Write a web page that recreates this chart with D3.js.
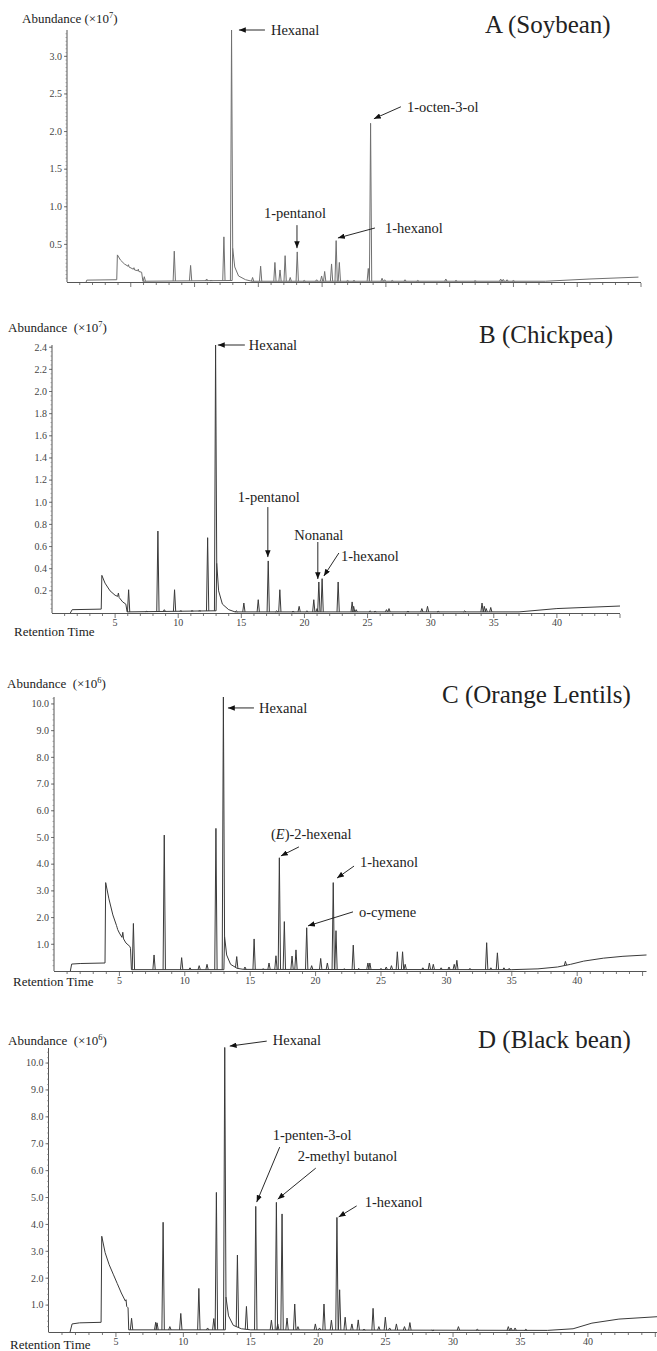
<!DOCTYPE html>
<html>
<head>
<meta charset="utf-8">
<script src="https://cdn.jsdelivr.net/npm/d3@7"></script>
<style>
  body { margin: 0; background: #fff; }
  svg { display: block; }
</style>
</head>
<body>
<div class="canvas"></div>
<script>
'use strict';

// ---- Data (retention time in min, abundance in axis units) ----

// A (Soybean), x10^7
var baseA = [[1.5, 0], [1.55, 0.025], [3.9, 0.03], [3.95, 0.36], [4.2, 0.29], [4.5, 0.24], [4.78, 0.21], [4.82, 0.23],
  [4.86, 0.2], [5.2, 0.17], [5.25, 0.19], [5.3, 0.16], [5.55, 0.15], [5.59, 0.17], [5.63, 0.14], [5.85, 0.13], [5.95, 0.01],
  [12.95, 0.02], [12.99, 0.45], [13.15, 0.2], [13.45, 0.08], [14.0, 0.03], [14.5, 0.01], [37.5, 0.01], [41, 0.04], [44.8, 0.065]];
var peaksA = [[6.06, 0.07], [8.41, 0.41], [9.69, 0.22], [10.95, 0.04], [11.3, 0.02], [12.3, 0.60], [12.9, 3.35],
  [14.55, 0.06], [15.18, 0.21], [16.3, 0.26], [16.7, 0.16], [17.1, 0.35], [17.5, 0.06], [18.05, 0.40], [18.6, 0.02],
  [19.57, 0.03], [19.96, 0.08], [20.2, 0.14], [20.74, 0.24], [21.1, 0.55], [21.35, 0.26], [22.0, 0.02], [22.5, 0.02],
  [23.62, 0.18], [23.8, 2.11], [24.7, 0.05], [24.9, 0.03], [25.5, 0.02], [26.5, 0.03], [27.5, 0.02], [29.7, 0.04],
  [30.5, 0.02], [32.0, 0.015], [34.0, 0.04], [34.2, 0.035], [34.5, 0.03], [35.0, 0.02]];
var yTicksA = [0.5, 1.0, 1.5, 2.0, 2.5, 3.0];
var labelsA = [['Hexanal', 13.48, 3.35], ['1-pentanol', 18.03, 0.45], ['1-hexanol', 21.24, 0.585], ['1-octen-3-ol', 24.06, 2.17]];

// B (Chickpea), x10^7
var baseB = [[1.45, 0], [1.6, 0.03], [3.9, 0.035], [3.95, 0.34], [4.2, 0.27], [4.6, 0.2], [5.0, 0.16], [5.2, 0.15],
  [5.26, 0.18], [5.32, 0.14], [5.6, 0.1], [5.85, 0.08], [5.95, 0.01], [13.0, 0.02], [13.05, 0.45], [13.2, 0.2],
  [13.5, 0.08], [14.0, 0.03], [14.5, 0.01], [37, 0.01], [40, 0.04], [45, 0.063]];
var peaksB = [[6.07, 0.21], [7.5, 0.015], [8.39, 0.74], [8.9, 0.03], [9.71, 0.21], [10.2, 0.02], [11.1, 0.02],
  [11.7, 0.02], [12.33, 0.68], [12.96, 2.42], [14.6, 0.02], [15.2, 0.09], [16.34, 0.12], [17.13, 0.47], [17.8, 0.02],
  [18.05, 0.21], [19.1, 0.015], [19.58, 0.06], [20.2, 0.02], [20.74, 0.12], [21.0, 0.04], [21.14, 0.28], [21.4, 0.31],
  [22.67, 0.28], [23.78, 0.10], [23.9, 0.06], [24.1, 0.03], [25.2, 0.02], [25.6, 0.015], [26.5, 0.03], [26.7, 0.04],
  [28.2, 0.015], [29.3, 0.04], [29.75, 0.06], [30.6, 0.015], [32.7, 0.02], [34.07, 0.09], [34.25, 0.06], [34.4, 0.04],
  [34.76, 0.05]];
var yTicksB = [0.2, 0.4, 0.6, 0.8, 1.0, 1.2, 1.4, 1.6, 1.8, 2.0, 2.2, 2.4];
var labelsB = [['Hexanal', 13.14, 2.42], ['1-pentanol', 17.1, 0.505], ['Nonanal', 21.06, 0.307], ['1-hexanol', 21.54, 0.334]];

// C (Orange Lentils), x10^6
var baseC = [[1.25, 0], [1.35, 0.26], [2.0, 0.28], [3.9, 0.3], [3.95, 3.31], [4.2, 2.7], [4.5, 2.1], [4.78, 1.7],
  [4.83, 1.62], [4.87, 1.55], [5.0, 1.42], [5.2, 1.26], [5.26, 1.45], [5.32, 1.2], [5.5, 1.05], [5.8, 0.92], [5.85, 0.85],
  [5.92, 0.05], [12.99, 0.05], [13.04, 1.3], [13.2, 0.6], [13.5, 0.25], [14.0, 0.1], [14.5, 0.06], [35, 0.05],
  [37, 0.08], [38.5, 0.15], [39.5, 0.25], [40.5, 0.37], [42, 0.48], [43.5, 0.55], [45.3, 0.6]];
var peaksC = [[6.07, 1.78], [7.65, 0.6], [8.43, 5.09], [9.76, 0.5], [10.4, 0.12], [11.1, 0.2], [11.7, 0.25],
  [12.38, 5.34], [12.95, 10.26], [13.97, 0.54], [14.6, 0.15], [15.3, 1.2], [16.0, 0.08], [16.44, 0.3], [16.97, 0.57],
  [17.23, 4.24], [17.61, 1.85], [18.2, 0.56], [18.5, 0.79], [19.32, 1.62], [19.7, 0.2], [20.39, 0.47], [20.9, 0.3],
  [21.35, 3.31], [21.56, 1.51], [22.2, 0.08], [22.88, 0.97], [23.3, 0.1], [24.0, 0.3], [24.15, 0.3], [25.0, 0.1],
  [25.4, 0.15], [25.8, 0.2], [26.25, 0.72], [26.65, 0.72], [26.85, 0.25], [28.2, 0.12], [28.7, 0.3], [29.0, 0.25],
  [29.6, 0.12], [30.2, 0.15], [30.6, 0.25], [30.8, 0.4], [31.8, 0.1], [33.08, 1.06], [33.4, 0.12], [33.9, 0.68],
  [34.4, 0.12], [34.8, 0.1], [39.1, 0.36]];
var yTicksC = [1.0, 2.0, 3.0, 4.0, 5.0, 6.0, 7.0, 8.0, 9.0, 10.0];
var labelsC = [['Hexanal', 13.3, 9.85], ['(E)-2-hexenal', 17.35, 4.31], ['1-hexanol', 21.64, 3.48], ['o-cymene', 19.42, 1.69]];

// D (Black bean), x10^6
var baseD = [[1.6, 0], [1.75, 0.3], [2.3, 0.34], [3.9, 0.36], [3.95, 3.56], [4.2, 2.95], [4.5, 2.5], [4.8, 2.15],
  [5.1, 1.8], [5.4, 1.45], [5.7, 1.15], [5.75, 1.2], [5.8, 0.95], [5.9, 0.9], [5.95, 0.08], [13.11, 0.08], [13.16, 1.3],
  [13.35, 0.6], [13.7, 0.25], [14.3, 0.12], [15, 0.08], [37, 0.06], [38.9, 0.12], [40.3, 0.33], [42.3, 0.48], [45.2, 0.57]];
var peaksD = [[6.16, 0.51], [7.95, 0.36], [8.05, 0.34], [8.5, 4.08], [9.0, 0.2], [9.81, 0.69], [11.15, 1.62],
  [11.8, 0.15], [12.26, 0.5], [12.45, 5.19], [13.07, 10.58], [14.01, 2.86], [14.68, 0.95], [15.37, 4.67], [16.53, 0.44],
  [16.9, 4.82], [17.0, 0.3], [17.32, 4.39], [17.69, 0.52], [18.26, 1.04], [18.5, 0.2], [19.79, 0.3], [20.1, 0.15],
  [20.43, 1.04], [20.98, 0.44], [21.39, 4.26], [21.59, 1.57], [22.0, 0.55], [22.5, 0.3], [22.97, 0.45], [23.4, 0.1],
  [24.07, 0.88], [24.5, 0.2], [24.98, 0.55], [25.3, 0.15], [25.8, 0.3], [26.4, 0.2], [26.8, 0.35], [28.5, 0.05],
  [30.4, 0.2], [31.8, 0.1], [34.1, 0.2], [34.3, 0.15], [34.6, 0.15], [35.4, 0.1]];
var yTicksD = [1.0, 2.0, 3.0, 4.0, 5.0, 6.0, 7.0, 8.0, 9.0, 10.0];
var labelsD = [['Hexanal', 13.44, 10.63], ['1-penten-3-ol', 15.44, 4.83], ['2-methyl butanol', 17.0, 4.94], ['1-hexanol', 21.52, 4.28]];

var xTickLabels = [5, 10, 15, 20, 25, 30, 35, 40];

// ---- Layout (pixels) ----
var FONT = '"Liberation Serif", "Tinos", "Times New Roman", "DejaVu Serif", serif';
var PEAK_HALF_WIDTH = 0.09;

var panels = [
  { title: 'A (Soybean)', exp: '7', base: baseA, peaks: peaksA, yTicks: yTicksA, labels: labelsA,
    left: 67, right: 641, xMax: 45, bottom: 282, top: 30, yMax: 3.35, yMinor: 0.05, xLabels: false,
    color: '#707070', titleX: 485, titleY: 33, absX: 22, absY: 23, absGap: ' ',
    arrows: [[26, 0, 32, 5, 'start'], [0, -23, -2, -30, 'middle'], [37, -10, 47, -5, 'start'], [27, -12, 33, -7, 'start']] },
  { title: 'B (Chickpea)', exp: '7', base: baseB, peaks: peaksB, yTicks: yTicksB, labels: labelsB,
    left: 52, right: 620, xMax: 45, bottom: 613, top: 345, yMax: 2.42, yMinor: 0.04, xLabels: true,
    color: '#3a3a3a', titleX: 479, titleY: 343, absX: 8, absY: 332, absGap: '\u2002', timeX: 14, timeY: 636,
    arrows: [[27, 0, 31, 5, 'start'], [0, -50, 1, -55, 'middle'], [0, -37, 1, -39, 'middle'], [15, -23, 17, -15, 'start']] },
  { title: 'C (Orange Lentils)', exp: '6', base: baseC, peaks: peaksC, yTicks: yTicksC, labels: labelsC,
    left: 54, right: 646.5, xMax: 45.3, bottom: 971, top: 697, yMax: 10.26, yMinor: 0.2, xLabels: true,
    color: '#3a3a3a', titleX: 442, titleY: 703, absX: 7, absY: 688, absGap: '\u2002', timeX: 13, timeY: 986,
    arrows: [[26, 0, 31, 5, 'start'], [18, -9, -10, -17, 'start'], [17, -12, 23, -11, 'start'], [45, -14, 51, -9, 'start']] },
  { title: 'D (Black bean)', exp: '6', base: baseD, peaks: peaksD, yTicks: yTicksD, labels: labelsD,
    left: 48.5, right: 658, xMax: 45.2, bottom: 1332, top: 1048, yMax: 10.56, yMinor: 0.2, xLabels: true,
    color: '#3a3a3a', titleX: 478, titleY: 1048, absX: 8, absY: 1045, absGap: '\u2002', timeX: 10, timeY: 1349,
    arrows: [[37, -5, 43, -1, 'start'], [23, -55, 16, -62, 'start'], [38, -31, 20, -38, 'start'], [18, -11, 26, -10, 'start']] }
];

var svg = d3.select('.canvas').append('svg')
  .attr('width', 657)
  .attr('height', 1351)
  .attr('font-family', FONT)
  .style('font-family', FONT);

svg.append('defs').append('marker')
  .attr('id', 'arrowHead')
  .attr('markerUnits', 'userSpaceOnUse')
  .attr('viewBox', '0 0 10 8')
  .attr('refX', 10)
  .attr('refY', 4)
  .attr('markerWidth', 7)
  .attr('markerHeight', 5.5)
  .attr('orient', 'auto')
  .append('path')
  .attr('d', 'M0,0 L10,4 L0,8 Z')
  .attr('fill', '#111');

panels.forEach(drawPanel);

// Linear lookup of the baseline under a peak foot
function baseAt(base, t) {
  if (t <= base[0][0]) return base[0][1];
  for (var i = 1; i < base.length; ++i) {
    if (t <= base[i][0]) {
      var a = base[i - 1], b = base[i];
      return a[1] + (b[1] - a[1]) * (t - a[0]) / (b[0] - a[0]);
    }
  }
  return base[base.length - 1][1];
}

function addText(g, x, y, size, str) {
  return g.append('text')
    .attr('x', x).attr('y', y)
    .attr('font-family', FONT)
    .style('font-size', size + 'px')
    .style('fill', '#222')
    .text(str);
}

function drawPanel(p) {
  var x = d3.scaleLinear().domain([0, p.xMax]).range([p.left, p.right]);
  var y = d3.scaleLinear().domain([0, p.yMax]).range([p.bottom, p.top]);
  var g = svg.append('g');
  var axisColor = '#555';

  // Axis lines
  g.append('line')
    .attr('x1', p.left).attr('x2', p.left)
    .attr('y1', p.bottom).attr('y2', p.top)
    .attr('stroke', axisColor).attr('stroke-width', 1);
  g.append('line')
    .attr('x1', p.left).attr('x2', p.right)
    .attr('y1', p.bottom + 0.5).attr('y2', p.bottom + 0.5)
    .attr('stroke', axisColor).attr('stroke-width', 1);

  // X ticks: minor every minute, major every 5
  var xt = d3.range(1, Math.floor(p.xMax) + 1);
  g.selectAll('line.xtick')
    .data(xt)
    .enter()
    .append('line')
    .attr('x1', function(d) { return x(d); })
    .attr('x2', function(d) { return x(d); })
    .attr('y1', p.bottom + 1)
    .attr('y2', function(d) { return p.bottom + (d % 5 === 0 ? 5 : 3); })
    .attr('stroke', axisColor).attr('stroke-width', 0.8);

  if (p.xLabels) {
    g.selectAll('text.xlabel')
      .data(xTickLabels)
      .enter()
      .append('text')
      .attr('x', function(d) { return x(d); })
      .attr('y', p.bottom + 13)
      .attr('text-anchor', 'middle')
      .attr('font-family', FONT)
      .style('font-size', '10px')
      .style('fill', '#444')
      .text(function(d) { return d; });

    addText(g, p.timeX, p.timeY, 13, 'Retention Time');
  }

  // Y ticks
  var minor = d3.range(p.yMinor, p.yMax, p.yMinor);
  g.selectAll('line.yminor')
    .data(minor)
    .enter()
    .append('line')
    .attr('x1', p.left - 1.5).attr('x2', p.left)
    .attr('y1', function(d) { return y(d); })
    .attr('y2', function(d) { return y(d); })
    .attr('stroke', '#777').attr('stroke-width', 0.6);
  g.selectAll('line.ymajor')
    .data(p.yTicks)
    .enter()
    .append('line')
    .attr('x1', p.left - 3).attr('x2', p.left)
    .attr('y1', function(d) { return y(d); })
    .attr('y2', function(d) { return y(d); })
    .attr('stroke', axisColor).attr('stroke-width', 0.8);
  g.selectAll('text.ylabel')
    .data(p.yTicks)
    .enter()
    .append('text')
    .attr('x', p.left - 5)
    .attr('y', function(d) { return y(d) + 3.3; })
    .attr('text-anchor', 'end')
    .attr('font-family', FONT)
    .style('font-size', '10px')
    .style('fill', '#444')
    .text(function(d) { return d.toFixed(1); });

  // Axis title with exponent
  var abs = addText(g, p.absX, p.absY, 13, null);
  abs.append('tspan').text('Abundance' + p.absGap + '(\u00d710');
  abs.append('tspan').attr('dy', -5).style('font-size', '8.5px').text(p.exp);
  abs.append('tspan').attr('dy', 5).text(')');

  // Panel title
  addText(g, p.titleX, p.titleY, 25, p.title);

  // Trace: baseline + spikes
  var line = d3.line()
    .x(function(d) { return x(d[0]); })
    .y(function(d) { return y(d[1]); });
  g.append('path')
    .attr('d', line(p.base))
    .attr('fill', 'none')
    .attr('stroke', p.color)
    .attr('stroke-width', 1);

  g.selectAll('path.peak')
    .data(p.peaks)
    .enter()
    .append('path')
    .attr('d', function(d) {
      var l = d[0] - PEAK_HALF_WIDTH, r = d[0] + PEAK_HALF_WIDTH;
      return line([[l, baseAt(p.base, l)], d, [r, baseAt(p.base, r)]]);
    })
    .attr('fill', 'none')
    .attr('stroke', p.color)
    .attr('stroke-width', 1);

  // Compound labels with arrows
  p.labels.forEach(function(lab, i) {
    var tipX = x(lab[1]), tipY = y(lab[2]);
    var a = p.arrows[i];
    g.append('line')
      .attr('x1', tipX + a[0]).attr('y1', tipY + a[1])
      .attr('x2', tipX).attr('y2', tipY)
      .attr('stroke', '#111').attr('stroke-width', 0.9)
      .attr('marker-end', 'url(#arrowHead)');
    var t = addText(g, tipX + a[2], tipY + a[3], 14.5, null)
      .attr('text-anchor', a[4]);
    if (lab[0].indexOf('(E)') === 0) {
      t.append('tspan').text('(');
      t.append('tspan').style('font-style', 'italic').text('E');
      t.append('tspan').text(lab[0].slice(2));
    } else {
      t.text(lab[0]);
    }
  });
}
</script>
</body>
</html>
